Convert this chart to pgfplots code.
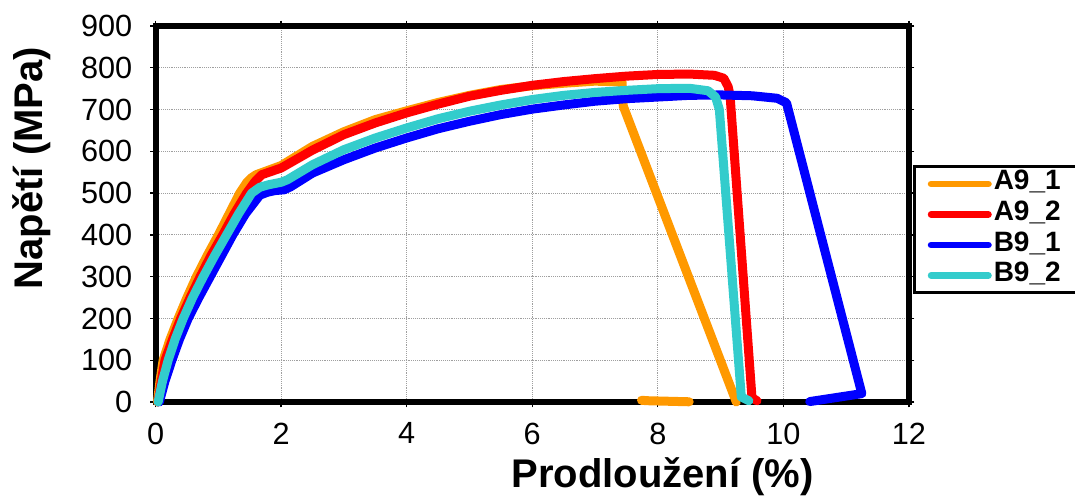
\documentclass[border=0pt]{standalone}
\usepackage{fontspec}
\setmainfont{Liberation Sans}
\usepackage{pgfplots}
\pgfplotsset{compat=1.18}
\definecolor{cAone}{RGB}{255,153,0}
\definecolor{cAtwo}{RGB}{255,0,0}
\definecolor{cBone}{RGB}{0,0,255}
\definecolor{cBtwo}{RGB}{51,204,204}

\begin{document}
\begin{tikzpicture}
\begin{axis}[
    name=ax,
    scale only axis,
    width=565pt, height=282pt,
    xmin=0, xmax=12, ymin=0, ymax=900,
    xtick={0,2,...,12}, ytick={0,100,...,900},
    grid=major,
    major grid style={gray!75, densely dotted, line width=0.8pt},
    axis line style={line width=4.5pt},
    tick align=outside,
    major tick length=4pt,
    tick style={black, line width=1pt},
    ticklabel style={font=\fontsize{23}{23}\selectfont},
    /pgf/number format/assume math mode=true,
    xticklabel style={yshift=-8pt},
    yticklabel style={xshift=-10pt},
    clip=false,
    every axis x label/.style={at={(rel axis cs:0.673,0)}, yshift=-56pt, anchor=center},
    every axis y label/.style={at={(rel axis cs:0,0.622)}, xshift=-92.7pt, rotate=90, anchor=center},
    xlabel={\fontsize{30}{30}\selectfont\bfseries Prodloužení (\%)},
    ylabel={\fontsize{30}{30}\selectfont\bfseries Napětí (MPa)},
    legend style={at={(rel axis cs:1.0053,0.63)}, anchor=north west,
        draw=black, line width=2.25pt, inner xsep=10pt, inner ysep=1.5pt,
        font=\fontsize{21}{21}\selectfont\bfseries, row sep=0pt,
        nodes={text height=16pt, text depth=6.9pt, inner ysep=0pt, inner xsep=1.5pt},
        cells={anchor=west}},
    legend image code/.code={\draw[#1, line width=5pt, line cap=round] (0pt,0pt) -- (43pt,0pt);},
    every axis plot/.append style={line width=6.75pt, line join=round, line cap=round},
]
% A9_1
\addplot[color=cAone] coordinates {
    (0.03,0) (0.07,50) (0.12,100) (0.23,150) (0.36,200) (0.50,250) (0.65,300)
    (0.82,350) (1.00,400) (1.17,450) (1.34,500) (1.45,525) (1.53,537) (1.60,544)
    (2.0,566) (2.5,612) (3.0,647) (3.5,676) (4.0,697) (4.5,717) (5.0,734) (5.5,748)
    (6.0,757) (6.5,763) (7.0,768) (7.43,766) (7.45,708) (9.25,0)
};
\addplot[color=cAone, forget plot] coordinates {(7.74,4) (7.85,3) (8.5,0.5)};
% A9_2
\addplot[color=cAtwo] coordinates {
    (0.04,0) (0.09,50) (0.15,100) (0.27,150) (0.40,200) (0.55,250) (0.71,300)
    (0.88,350) (1.07,400) (1.25,450) (1.45,500) (1.58,527) (1.69,544) (2.0,560)
    (2.5,603) (3.0,640) (3.5,668) (4.0,692) (4.5,713) (5.0,732) (5.5,746)
    (6.0,758) (6.5,767) (7.0,774) (7.5,780) (8.0,784) (8.5,785) (8.9,782)
    (9.05,775) (9.12,755) (9.15,735) (9.5,10) (9.58,3)
};
% B9_1
\addplot[color=cBone] coordinates {
    (0.06,0) (0.15,50) (0.26,100) (0.38,150) (0.52,200) (0.69,250) (0.87,300)
    (1.05,350) (1.23,400) (1.43,450) (1.66,495) (1.78,502) (1.90,506) (2.05,508)
    (2.15,515) (2.5,548) (3.0,580) (3.5,608) (4.0,632) (4.5,654) (5.0,672)
    (5.5,688) (6.0,701) (6.5,711) (7.0,720) (7.5,726) (8.0,730) (8.5,734)
    (9.0,735) (9.5,733) (9.9,727) (10.05,716) (11.25,20) (10.42,1)
};
% B9_2
\addplot[color=cBtwo] coordinates {
    (0.04,0) (0.11,50) (0.20,100) (0.31,150) (0.44,200) (0.59,250) (0.76,300)
    (0.94,350) (1.13,400) (1.32,450) (1.53,500) (1.66,514) (1.80,520) (2.0,526)
    (2.1,532) (2.5,568) (3.0,604) (3.5,632) (4.0,656) (4.5,678) (5.0,696)
    (5.5,711) (6.0,724) (6.5,734) (7.0,741) (7.5,746) (8.0,750) (8.5,751)
    (8.8,745) (8.92,730) (8.98,700) (9.33,12) (9.45,3)
};
\legend{A9\_1, A9\_2, B9\_1, B9\_2}
\end{axis}
\pgfresetboundingbox
\path[use as bounding box] ([shift={(-116.7pt,-72.75pt)}]ax.south west)
    rectangle ([shift={(689.55pt,301.5pt)}]ax.south west);
\end{tikzpicture}
\end{document}
